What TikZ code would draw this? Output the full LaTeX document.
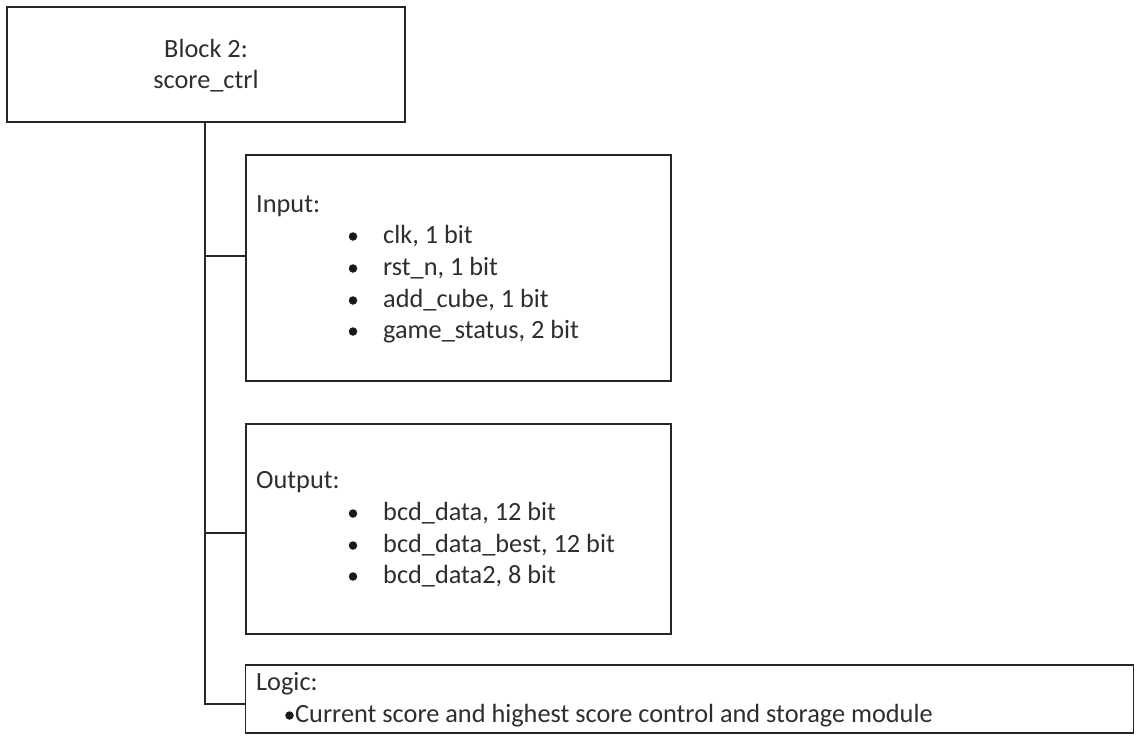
\documentclass[tikz,border=0pt]{standalone}
\usepackage{fontspec}
\setmainfont{Carlito}
\begin{document}
\begin{tikzpicture}[x=1pt,y=-1pt,
  box/.style={draw=black!85, line width=1.5pt, rectangle, inner sep=0pt},
  wire/.style={draw=black!85, line width=1.5pt},
  txt/.style={font=\fontsize{26.3}{31.6}\selectfont, text=black!82, inner sep=0pt, anchor=base west},
  dot/.style={circle, fill=black!90, inner sep=0pt, minimum size=8.5pt}]
\useasboundingbox (0,0) rectangle (1146,748);
\fill[white] (0,0) rectangle (1146,748);

% block header
\node[box, minimum width=398pt, minimum height=115pt] (block) at (206,64.5) {};
\node[txt, anchor=base] (blk1) at (206,57) {Block 2:};
\node[txt, anchor=base] (blk2) at (206,88) {score\_ctrl};

% input list
\node[box, minimum width=425pt, minimum height=226pt] (inbox) at (458.5,268) {};
\node[txt] (inhead) at (256,212) {Input:};
\foreach \y/\t [count=\i] in {243/{clk, 1 bit}, 275/{rst\_n, 1 bit}, 307/{add\_cube, 1 bit}, 338/{game\_status, 2 bit}}{
  \node[dot] (indot\i) at (353,\y-6.5) {};
  \node[txt] (initem\i) at (383,\y) {\t};
}

% output list
\node[box, minimum width=425pt, minimum height=210pt] (outbox) at (458.5,529) {};
\node[txt] (outhead) at (256,488) {Output:};
\foreach \y/\t [count=\i] in {520/{bcd\_data, 12 bit}, 552/{bcd\_data\_best, 12 bit}, 583/{bcd\_data2, 8 bit}}{
  \node[dot] (outdot\i) at (353,\y-6.5) {};
  \node[txt] (outitem\i) at (383,\y) {\t};
}

% logic description
\node[box, minimum width=888pt, minimum height=68pt] (logic) at (689.5,699) {};
\node[txt] (loghead) at (256,690) {Logic:};
\node[dot] (logdot) at (289.5,715.5) {};
\node[txt] (logtext) at (295,722) {Current score and highest score control and storage module};

% tree connectors
\coordinate (inport) at (inbox.west |- 0,256);
\coordinate (outport) at (outbox.west |- 0,533);
\coordinate (logport) at (logic.west |- 0,704);
\draw[wire] (block.south -| 205,0) -- (205,0 |- logport) -- (logport);
\draw[wire] (205,0 |- inport) -- (inport);
\draw[wire] (205,0 |- outport) -- (outport);
\end{tikzpicture}
\end{document}
